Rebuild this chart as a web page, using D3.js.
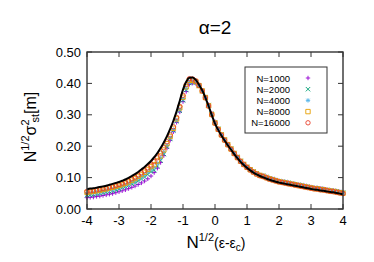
<!DOCTYPE html>
<html>
<head>
<meta charset="UTF-8">
<script src="https://cdn.jsdelivr.net/npm/d3@7"></script>
<style>
  body { margin: 0; background: #fff; }
  text { font-family: "Liberation Sans", Arial, sans-serif; fill: #000; }
</style>
</head>
<body>
<svg id="chart" width="374" height="262"></svg>
<script>
// sample grid of the scaled control parameter, -4 .. 4 by 0.1
var xGrid = d3.range(81).map(function (i) { return -4 + i / 10; });

var seriesNames = ["N=1000", "N=2000", "N=4000", "N=8000", "N=16000"];
var seriesColors = ["#9400d3", "#009e73", "#56b4e9", "#e69f00", "#e8402a"];
var seriesMarks = ["plus", "cross", "star", "square", "circle"];

var n1000 = [
  0.036,0.037,0.038,0.040,0.041,0.043,0.045,0.047,0.049,0.052,
  0.055,0.058,0.061,0.065,0.069,0.073,0.078,0.083,0.089,0.096,
  0.105,0.116,0.130,0.148,0.170,0.194,0.219,0.246,0.276,0.309,
  0.342,0.374,0.397,0.401,0.400,0.392,0.377,0.356,0.332,0.305,
  0.278,
  0.256,0.238,0.222,0.207,0.193,0.179,0.166,0.154,0.144,0.135,
  0.127,0.120,0.114,0.109,0.107,0.103,0.099,0.096,0.093,0.090,
  0.088,0.086,0.084,0.082,0.080,0.078,0.076,0.074,0.072,0.070,
  0.068,0.067,0.065,0.064,0.062,0.060,0.059,0.057,0.055,0.053];
var n2000 = [
  0.044,0.045,0.046,0.048,0.050,0.052,0.054,0.056,0.058,0.061,
  0.064,0.068,0.071,0.075,0.080,0.084,0.090,0.096,0.102,0.110,
  0.119,0.124,0.137,0.155,0.175,0.198,0.223,0.250,0.280,0.313,
  0.346,0.379,0.401,0.404,0.402,0.392,0.376,0.355,0.331,0.303,
  0.276,
  0.255,0.237,0.221,0.206,0.192,0.178,0.165,0.153,0.143,0.134,
  0.126,0.119,0.113,0.108,0.106,0.102,0.098,0.095,0.092,0.089,
  0.087,0.085,0.083,0.081,0.079,0.077,0.075,0.073,0.071,0.069,
  0.067,0.066,0.064,0.063,0.061,0.059,0.058,0.056,0.054,0.052];
var n4000 = [
  0.048,0.050,0.051,0.053,0.055,0.057,0.059,0.061,0.063,0.066,
  0.069,0.073,0.076,0.080,0.086,0.090,0.097,0.103,0.109,0.118,
  0.127,0.132,0.145,0.162,0.181,0.203,0.227,0.253,0.283,0.317,
  0.351,0.384,0.405,0.407,0.404,0.393,0.376,0.355,0.330,0.302,
  0.275,
  0.254,0.236,0.220,0.205,0.191,0.177,0.164,0.152,0.142,0.133,
  0.125,0.118,0.112,0.107,0.105,0.101,0.097,0.094,0.091,0.088,
  0.086,0.084,0.082,0.080,0.078,0.076,0.074,0.072,0.070,0.068,
  0.066,0.065,0.063,0.062,0.060,0.058,0.057,0.055,0.053,0.051];
var n8000 = [
  0.053,0.055,0.056,0.058,0.060,0.062,0.064,0.067,0.069,0.072,
  0.075,0.078,0.082,0.086,0.092,0.097,0.104,0.110,0.117,0.126,
  0.135,0.141,0.153,0.169,0.188,0.208,0.231,0.257,0.287,0.322,
  0.356,0.389,0.410,0.410,0.406,0.393,0.376,0.355,0.329,0.301,
  0.274,
  0.254,0.236,0.220,0.205,0.191,0.177,0.164,0.152,0.142,0.133,
  0.125,0.118,0.112,0.107,0.104,0.100,0.096,0.093,0.090,0.087,
  0.085,0.083,0.081,0.079,0.077,0.075,0.073,0.071,0.069,0.067,
  0.065,0.064,0.062,0.061,0.059,0.057,0.056,0.054,0.052,0.050];
var n16000 = [
  0.056,0.058,0.059,0.061,0.063,0.065,0.067,0.070,0.072,0.075,
  0.078,0.082,0.086,0.090,0.096,0.101,0.108,0.115,0.122,0.131,
  0.140,0.151,0.163,0.178,0.195,0.214,0.236,0.262,0.292,0.327,
  0.362,0.396,0.415,0.414,0.408,0.394,0.376,0.354,0.328,0.300,
  0.273,
  0.253,0.235,0.219,0.204,0.190,0.176,0.163,0.151,0.141,0.132,
  0.124,0.117,0.111,0.106,0.103,0.099,0.095,0.092,0.089,0.086,
  0.084,0.082,0.080,0.078,0.076,0.074,0.072,0.070,0.068,0.066,
  0.064,0.063,0.061,0.060,0.058,0.056,0.055,0.053,0.051,0.049];
// scaling function (solid black curve)
var theory = [
  0.063,0.065,0.066,0.068,0.070,0.072,0.074,0.077,0.080,0.083,
  0.086,0.090,0.094,0.099,0.105,0.111,0.118,0.126,0.134,0.143,
  0.153,0.165,0.178,0.194,0.212,0.232,0.255,0.281,0.311,0.345,
  0.380,0.405,0.418,0.419,0.411,0.396,0.378,0.355,0.328,0.299,
  0.272,
  0.252,0.234,0.218,0.203,0.189,0.175,0.162,0.150,0.140,0.131,
  0.123,0.116,0.110,0.105,0.101,0.097,0.093,0.090,0.087,0.084,
  0.082,0.080,0.078,0.076,0.074,0.072,0.070,0.068,0.066,0.064,
  0.062,0.061,0.059,0.058,0.056,0.054,0.053,0.051,0.049,0.047];

var xTicks = [-4, -3, -2, -1, 0, 1, 2, 3, 4];
var yTicks = [0, 0.1, 0.2, 0.3, 0.4, 0.5];

var seriesValues = [n1000, n2000, n4000, n8000, n16000];

var svg = d3.select("#chart");
var plotLeft = 87, plotRight = 343, plotTop = 52, plotBottom = 209;

var x = d3.scaleLinear().domain([-4, 4]).range([plotLeft, plotRight]);
var y = d3.scaleLinear().domain([0, 0.5]).range([plotBottom, plotTop]);

// marker shapes drawn like gnuplot's point types
var markPath = function (kind, s) {
  if (kind === "plus") return "M" + (-s) + ",0H" + s + "M0," + (-s) + "V" + s;
  if (kind === "cross") return "M" + (-s) + "," + (-s) + "L" + s + "," + s + "M" + (-s) + "," + s + "L" + s + "," + (-s);
  if (kind === "star") return "M" + (-s) + ",0H" + s + "M0," + (-s) + "V" + s +
    "M" + (-s * 0.75) + "," + (-s * 0.75) + "L" + (s * 0.75) + "," + (s * 0.75) +
    "M" + (-s * 0.75) + "," + (s * 0.75) + "L" + (s * 0.75) + "," + (-s * 0.75);
  if (kind === "square") return "M" + (-s) + "," + (-s) + "H" + s + "V" + s + "H" + (-s) + "Z";
  return "M" + s + ",0A" + s + "," + s + " 0 1,1 " + (-s) + ",0A" + s + "," + s + " 0 1,1 " + s + ",0";
};

var drawMark = function (g, kind, color, cx, cy) {
  g.append("path")
    .attr("d", markPath(kind, 2.2))
    .attr("transform", "translate(" + cx + "," + cy + ")")
    .attr("fill", "none")
    .attr("stroke", color)
    .attr("stroke-width", 0.9);
};

// points
var pts = svg.append("g");
seriesValues.forEach(function (vals, si) {
  vals.forEach(function (v, i) {
    drawMark(pts, seriesMarks[si], seriesColors[si], x(xGrid[i]), y(v));
  });
});

// scaling curve
svg.append("path")
  .datum(theory)
  .attr("d", d3.line()
    .x(function (d, i) { return x(xGrid[i]); })
    .y(function (d) { return y(d); })
    .curve(d3.curveMonotoneX))
  .attr("fill", "none")
  .attr("stroke", "#000")
  .attr("stroke-width", 2);

// axes, ticks inward and mirrored
var tickLen = 5;
var axisG = svg.append("g").attr("stroke", "#333").attr("stroke-width", 1);
xTicks.forEach(function (t) {
  axisG.append("line").attr("x1", x(t)).attr("x2", x(t)).attr("y1", plotBottom).attr("y2", plotBottom - tickLen);
  axisG.append("line").attr("x1", x(t)).attr("x2", x(t)).attr("y1", plotTop).attr("y2", plotTop + tickLen);
});
yTicks.forEach(function (t) {
  axisG.append("line").attr("x1", plotLeft).attr("x2", plotLeft + tickLen).attr("y1", y(t)).attr("y2", y(t));
  axisG.append("line").attr("x1", plotRight).attr("x2", plotRight - tickLen).attr("y1", y(t)).attr("y2", y(t));
});
svg.append("rect")
  .attr("x", plotLeft).attr("y", plotTop)
  .attr("width", plotRight - plotLeft).attr("height", plotBottom - plotTop)
  .attr("fill", "none").attr("stroke", "#333").attr("stroke-width", 1.4);

svg.append("g").selectAll("text").data(xTicks).enter().append("text")
  .attr("x", function (d) { return x(d); })
  .attr("y", plotBottom + 16)
  .attr("text-anchor", "middle")
  .style("font-size", "13px")
  .text(function (d) { return d; });

svg.append("g").selectAll("text").data(yTicks).enter().append("text")
  .attr("x", plotLeft - 6)
  .attr("y", function (d) { return y(d) + 4.5; })
  .attr("text-anchor", "end")
  .style("font-size", "13px")
  .text(function (d) { return d3.format(".2f")(d); });

// title
svg.append("text")
  .attr("x", 215).attr("y", 34)
  .attr("text-anchor", "middle")
  .style("font-size", "19px")
  .text("α=2");

// x label
var xl = svg.append("text")
  .attr("x", 216).attr("y", 248)
  .attr("text-anchor", "middle");
xl.append("tspan").style("font-size", "17px").text("N");
xl.append("tspan").style("font-size", "11px").attr("dy", -7).text("1/2");
xl.append("tspan").style("font-size", "14px").attr("dy", 7).text("(ε-ε");
xl.append("tspan").style("font-size", "10px").attr("dy", 3).text("c");
xl.append("tspan").style("font-size", "14px").attr("dy", -3).text(")");

// y label
var yl = svg.append("text")
  .attr("transform", "translate(36,127) rotate(-90)")
  .attr("text-anchor", "middle");
yl.append("tspan").style("font-size", "16px").text("N");
yl.append("tspan").style("font-size", "11px").attr("dy", -7).text("1/2");
yl.append("tspan").style("font-size", "16px").attr("dy", 7).text("σ");
yl.append("tspan").style("font-size", "11px").attr("dy", -7).text("2");
yl.append("tspan").style("font-size", "11px").attr("dy", 10).attr("dx", -3).text("st");
yl.append("tspan").style("font-size", "16px").attr("dy", -3).text("[m]");

// legend
var lg = svg.append("g");
lg.append("rect")
  .attr("x", 245).attr("y", 67).attr("width", 82).attr("height", 66)
  .attr("fill", "#fff").attr("stroke", "#333").attr("stroke-width", 1);
seriesNames.forEach(function (name, i) {
  var cy = 78 + i * 11.2;
  lg.append("text")
    .attr("x", 290).attr("y", cy + 3.5)
    .attr("text-anchor", "end")
    .style("font-size", "9.5px")
    .text(name);
  drawMark(lg, seriesMarks[i], seriesColors[i], 308, cy);
});
</script>
</body>
</html>
